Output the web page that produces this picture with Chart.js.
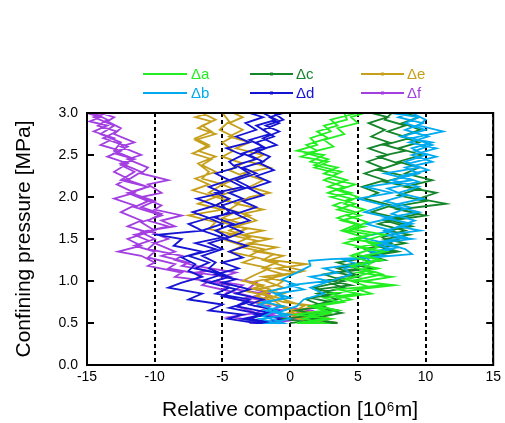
<!DOCTYPE html>
<html>
<head>
<meta charset="utf-8">
<script src="https://cdn.jsdelivr.net/npm/chart.js@4"></script>
<style>
html,body{margin:0;padding:0;background:#fff;}
canvas{display:block;}
</style>
</head>
<body>
<canvas id="c" width="505" height="423"></canvas>
<script>
// ---- data (x = relative compaction [10^6 m], y = confining pressure [MPa]) ----
const seriesNames = ['Δa','Δb','Δc','Δd','Δe','Δf'];
const xTicks = [-15,-10,-5,0,5,10,15];
const yTicks = [0,0.5,1.0,1.5,2.0,2.5,3.0];

const dA = [
 [1,0.5],[3,0.55],[0.5,0.6],[2.5,0.65],[1.5,0.7],[3.5,0.75],[2.5,0.8],[5,0.85],[3.5,0.9],[7,0.95],[5.5,1.0],[7.5,1.05],[5,1.1],[6.5,1.15],[5,1.2],[6.8,1.25],[5.5,1.3],[7,1.35],[5,1.4],[6.5,1.45],[4.5,1.5],[6,1.55],[4.2,1.6],[5.5,1.65],[3.8,1.72],[5.2,1.78],[3.5,1.85],[4.8,1.92],[3,2.0],[4.5,2.05],[2.8,2.12],[4.2,2.2],[2.5,2.28],[3.5,2.35],[1.5,2.42],[2.5,2.5],[0.5,2.55],[2,2.62],[1.5,2.7],[3,2.78],[2.5,2.85],[4.2,2.92],[4,3.0],
 [5.5,3.0],[4.5,2.95],[5,2.88],[3.5,2.82],[4,2.75],[2.5,2.68],[3.2,2.6],[1.2,2.52],[2.8,2.45],[1.8,2.38],[3.8,2.3],[2.8,2.22],[4.8,2.15],[3.5,2.08],[5,2.0],[4,1.92],[5.5,1.85],[4.2,1.78],[5.7,1.7],[4.5,1.62],[7,1.55],[5.5,1.48],[6.5,1.4],[4.8,1.32],[6.5,1.25],[4.5,1.18],[6,1.1],[4,1.02],[7.7,0.95],[5,0.9],[6,0.85],[3.5,0.8],[4,0.75],[2,0.7],[3.5,0.65],[1.5,0.6],[2.5,0.55],[0.5,0.5],
 [2.5,0.5],[1,0.55],[3,0.62],[2,0.7],[4.5,0.78],[3,0.85],[6,0.92],[4.5,1.0],[6.8,1.08],[5.5,1.15],[6,1.22],[4.5,1.3],[6,1.38],[4,1.45],[5.5,1.52],[3.8,1.6],[5,1.68],[3.5,1.75],[4.8,1.82],[3.2,1.9],[4.5,1.98],[2.8,2.05],[4,2.12],[2.5,2.2],[3.5,2.28],[1.8,2.35],[2.8,2.42],[0.8,2.48],[2,2.55],[1.2,2.62],[2.8,2.7],[2,2.78],[3.5,2.85],[3,2.92],[5,3.0]
];
const dB = [
 [-1,0.5],[-2.2,0.55],[0,0.6],[-1.8,0.65],[-0.5,0.7],[-2,0.75],[0,0.8],[-1,0.85],[1,0.9],[0,0.95],[2.8,1.0],[1.5,1.05],[3.5,1.1],[2.5,1.15],[5,1.2],[4,1.25],[7,1.3],[6,1.35],[8,1.4],[6.5,1.45],[9,1.5],[7,1.55],[9.6,1.6],[8,1.65],[9.2,1.72],[7.5,1.8],[8.8,1.88],[7,1.95],[8.5,2.02],[7.2,2.1],[9.5,2.18],[8.2,2.25],[10.2,2.32],[8.8,2.4],[10.8,2.48],[9.2,2.55],[10.5,2.62],[9,2.7],[11.3,2.78],[9.5,2.85],[10,2.92],[9,3.0],
 [7.5,3.0],[9.5,2.95],[8.5,2.88],[10,2.8],[8.2,2.72],[10.5,2.65],[9,2.58],[10,2.5],[8.5,2.42],[9.5,2.35],[7,2.28],[9,2.2],[5.6,2.12],[7.5,2.05],[5,1.98],[7,1.9],[5.5,1.82],[7.5,1.75],[5.6,1.68],[7.5,1.6],[5.2,1.52],[7,1.45],[8.5,1.38],[9,1.32],[6,1.28],[3,1.26],[1.4,1.24],[1.5,1.18],[0.5,1.1],[-0.6,1.02],[0.5,0.95],[-1.5,0.88],[-0.5,0.8],[-2.3,0.72],[-1,0.65],[-2,0.58],[-0.5,0.5],
 [-1.5,0.5],[0,0.55],[-1,0.62],[0.5,0.7],[1,0.78],[2.5,0.85],[1.5,0.92],[3,1.0],[4.5,1.08],[4,1.15],[6,1.22],[5.5,1.3],[7.5,1.38],[6,1.45],[8.5,1.52],[7,1.6],[9,1.68],[7,1.75],[9.5,1.82],[7.5,1.9],[9.8,1.98],[8,2.05],[9.5,2.12],[7.5,2.2],[9.5,2.28],[8.5,2.35],[10.5,2.42],[9,2.5],[10.8,2.58],[8.8,2.65],[10.2,2.72],[8.5,2.8],[9.8,2.88],[8,2.95],[8.8,3.0]
];
const dC = [
 [0,0.5],[2.5,0.55],[1,0.6],[3.5,0.65],[2,0.7],[3,0.75],[1.5,0.8],[3.5,0.85],[2,0.9],[4.5,0.95],[3,1.0],[5,1.05],[3.5,1.1],[6,1.15],[4.5,1.2],[7,1.25],[6,1.3],[8,1.35],[6.8,1.4],[8.5,1.45],[7,1.5],[8.8,1.55],[7.2,1.6],[9,1.65],[7.5,1.72],[10,1.78],[8,1.85],[11.5,1.92],[9.5,1.98],[10.8,2.05],[8.5,2.12],[10.5,2.2],[8.5,2.28],[9.5,2.35],[8,2.42],[9.7,2.5],[8,2.58],[9.5,2.65],[8.2,2.72],[9.6,2.8],[8.3,2.88],[9.5,2.95],[8.5,3.0],
 [6,3.0],[7.2,2.95],[5.8,2.88],[7,2.8],[6,2.72],[7.3,2.65],[5.8,2.58],[7.2,2.5],[5.7,2.42],[6.8,2.35],[5.5,2.28],[7,2.2],[5.3,2.12],[6.5,2.05],[5.5,1.98],[7.5,1.9],[6,1.82],[8,1.75],[6.5,1.68],[8.5,1.6],[6.8,1.52],[7.5,1.45],[5.5,1.38],[6.5,1.3],[3.5,1.22],[5,1.15],[2.5,1.08],[4,1.0],[1.8,0.92],[3,0.85],[1.2,0.78],[2.5,0.7],[0.5,0.65],[2,0.6],[-0.4,0.55],[1.5,0.5],
 [3.5,0.5],[1.5,0.55],[3.8,0.62],[1.5,0.7],[3.5,0.78],[2,0.85],[4,0.92],[2.5,1.0],[4.8,1.08],[3.5,1.15],[6,1.22],[5,1.28],[7.5,1.35],[6.5,1.42],[8,1.5],[7,1.58],[8.5,1.65],[7,1.72],[9.5,1.8],[7.5,1.88],[10,1.95],[8,2.02],[9.5,2.1],[7,2.18],[8.5,2.25],[6.5,2.32],[8,2.4],[6.5,2.48],[8.5,2.55],[7,2.62],[8.8,2.7],[7.2,2.78],[8.5,2.85],[7,2.92],[7.5,3.0]
];
const dD = [
 [-2,0.5],[-0.5,0.55],[-2.5,0.6],[-1,0.65],[-3,0.72],[-2,0.78],[-4,0.85],[-3,0.9],[-5,0.98],[-4,1.02],[-5.5,1.08],[-3.8,1.15],[-5,1.22],[-3.5,1.28],[-4.5,1.35],[-3.2,1.42],[-4.8,1.5],[-3.5,1.58],[-4.5,1.65],[-3,1.72],[-4,1.8],[-2.5,1.88],[-3.5,1.95],[-2,2.02],[-3,2.1],[-1.5,2.18],[-2.5,2.25],[-1.2,2.32],[-2.2,2.4],[-1.5,2.48],[-2.5,2.55],[-1,2.62],[-2,2.7],[-0.8,2.78],[-1.8,2.85],[-0.5,2.92],[-1.2,3.0],
 [-3,3.0],[-2,2.95],[-3.3,2.88],[-2.5,2.8],[-4,2.72],[-3,2.65],[-4.7,2.58],[-3.5,2.5],[-4.5,2.42],[-4,2.35],[-5.5,2.28],[-4.5,2.2],[-6,2.12],[-5,2.05],[-6.9,1.98],[-5.5,1.9],[-7.2,1.82],[-6,1.75],[-7.5,1.68],[-6.5,1.6],[-9.8,1.55],[-8,1.5],[-8.6,1.42],[-6.5,1.35],[-8,1.28],[-7,1.2],[-7.5,1.12],[-6.5,1.05],[-8,0.98],[-9,0.92],[-6.5,0.85],[-7.5,0.78],[-5,0.72],[-6,0.65],[-3.5,0.6],[-4.6,0.55],[-2.5,0.5],
 [-1,0.5],[-3,0.55],[-1.5,0.62],[-4,0.7],[-3,0.78],[-5.5,0.85],[-4.5,0.92],[-6.5,1.0],[-5,1.08],[-7,1.15],[-6,1.22],[-7.5,1.3],[-5.5,1.38],[-7,1.45],[-5,1.52],[-6.5,1.6],[-5,1.68],[-6,1.75],[-4,1.82],[-5.5,1.9],[-4.5,1.98],[-5.5,2.05],[-3.5,2.12],[-4.5,2.2],[-3,2.28],[-4,2.38],[-2.5,2.45],[-3.5,2.52],[-2,2.6],[-3,2.68],[-1.5,2.75],[-2.5,2.85],[-1,2.92],[-2,3.0],
 [-0.5,3.0],[-1.5,2.95],[-0.8,2.88],[-2,2.8],[-1.2,2.72],[-2.5,2.65],[-1.8,2.58],[-3,2.5],[-2,2.42],[-3.5,2.35],[-2.5,2.28],[-4,2.2],[-3,2.12],[-4.5,2.05],[-3.5,1.98],[-5,1.9],[-4.5,1.82],[-5.5,1.75],[-4.2,1.68],[-5.5,1.6],[-4.5,1.52],[-6,1.45],[-5,1.38],[-6.5,1.3],[-5.5,1.22],[-6,1.15],[-4.5,1.05],[-6,0.98],[-4,0.9],[-5,0.82],[-3,0.75],[-4.5,0.68],[-2,0.6],[-3.5,0.55],[-1.5,0.5]
];
const dE = [
 [3.5,0.5],[1.5,0.55],[3,0.6],[0.5,0.65],[2,0.7],[-0.5,0.75],[-1.5,0.8],[-0.5,0.85],[-2.5,0.9],[-1,0.95],[-0.5,1.0],[-2,1.05],[0.5,1.1],[-1,1.15],[1.2,1.2],[-1.5,1.25],[-0.5,1.3],[-2.5,1.35],[-1,1.4],[-3,1.45],[-1.5,1.5],[-3.5,1.55],[-2,1.6],[-4,1.65],[-2.5,1.72],[-3.5,1.8],[-2,1.85],[-4,1.92],[-3,2.0],[-1.5,2.05],[-3,2.12],[-2,2.2],[-3.5,2.28],[-1.5,2.35],[-3,2.42],[-2,2.5],[-4,2.58],[-3,2.65],[-4.5,2.72],[-3.5,2.8],[-4.5,2.88],[-3.5,2.95],[-4.2,3.0],
 [-6,3.0],[-7,2.95],[-5.8,2.9],[-6.8,2.82],[-5.5,2.75],[-7,2.68],[-6,2.6],[-7.2,2.52],[-5.8,2.45],[-6.5,2.38],[-5.5,2.3],[-7,2.22],[-6,2.15],[-7.2,2.08],[-5.5,2.0],[-6.8,1.92],[-5,1.85],[-7.5,1.78],[-5.5,1.7],[-6,1.62],[-4,1.55],[-5,1.5],[-3.5,1.42],[-4.5,1.35],[-2.5,1.28],[-3.5,1.22],[-1.5,1.15],[-2.5,1.08],[-3.5,1.0],[-2,0.95],[-3.3,0.88],[-1.5,0.82],[-2.5,0.75],[-0.5,0.7],[0.5,0.65],[-0.5,0.6],[2,0.55],[1,0.5],
 [2.5,0.5],[0.5,0.55],[1.5,0.6],[-0.5,0.68],[-1,0.75],[-2.5,0.82],[-1.5,0.9],[-3,0.98],[-1,1.05],[1,1.12],[-0.5,1.18],[-2,1.25],[-1.2,1.32],[-3.5,1.4],[-2.5,1.48],[-4.5,1.55],[-3.2,1.62],[-5,1.7],[-3,1.78],[-4.5,1.85],[-3.8,1.92],[-5.5,2.0],[-4,2.08],[-5,2.15],[-3.5,2.25],[-4.5,2.32],[-3.5,2.4],[-5,2.48],[-4.2,2.55],[-5,2.65],[-4.2,2.72],[-5.2,2.8],[-4.5,2.9],[-5,3.0],
 [-6.5,3.0],[-5.5,2.92],[-6.5,2.85],[-5.8,2.78],[-7,2.7],[-6,2.62],[-6.8,2.55],[-5.5,2.48],[-6.8,2.4],[-6,2.3],[-6.5,2.22],[-5,2.15],[-6,2.05],[-4.5,1.98],[-5.5,1.9],[-4,1.82],[-5,1.75],[-3.5,1.68],[-4.5,1.6],[-3,1.52],[-4,1.45],[-2,1.38],[-3,1.3],[-1,1.22],[-2,1.15],[-0.5,1.08],[-1.8,1.0],[-0.5,0.92],[-2,0.85],[-0.5,0.78],[1,0.7],[0,0.62],[3,0.55],[2,0.5]
];
const dF = [
 [-1,0.5],[0.5,0.55],[-1.5,0.6],[-0.5,0.65],[-2.5,0.7],[-1.5,0.75],[-3,0.8],[-2,0.85],[-4,0.9],[-3.5,0.95],[-5.5,1.0],[-4.5,1.05],[-7,1.1],[-6,1.12],[-8,1.18],[-7.5,1.22],[-9.5,1.3],[-8.5,1.35],[-10,1.45],[-9,1.5],[-10.5,1.6],[-8.5,1.65],[-9.5,1.72],[-8,1.78],[-10,1.85],[-9.5,1.9],[-11,2.0],[-9.5,2.05],[-10.5,2.15],[-9,2.2],[-11,2.28],[-10.5,2.35],[-12,2.45],[-11,2.5],[-12.5,2.6],[-11.5,2.65],[-13,2.75],[-12.5,2.82],[-13.5,2.9],[-13,2.95],[-14,3.0],
 [-15,3.0],[-14,2.95],[-14.8,2.9],[-13.5,2.85],[-14.5,2.78],[-13,2.7],[-14,2.62],[-12.5,2.55],[-13.5,2.48],[-12,2.4],[-13,2.3],[-12,2.22],[-12.8,2.15],[-11.5,2.05],[-13,1.98],[-11.5,1.9],[-12.5,1.82],[-11,1.72],[-12,1.65],[-10.5,1.58],[-12,1.5],[-11,1.42],[-12.7,1.35],[-11,1.3],[-10,1.22],[-10.5,1.18],[-8,1.1],[-8.5,1.05],[-6,1.0],[-6.5,0.95],[-4.5,0.88],[-5,0.82],[-3,0.75],[-4,0.7],[-2.5,0.62],[-4.5,0.57],[-2,0.52],[-3,0.5],
 [-1.5,0.5],[1,0.55],[0,0.6],[1.5,0.65],[-1,0.7],[-2,0.78],[-1.5,0.85],[-3,0.92],[-2.5,0.98],[-5,1.05],[-4,1.1],[-7,1.18],[-8.5,1.25],[-8,1.3],[-10.5,1.38],[-10,1.45],[-11.5,1.55],[-10,1.6],[-11,1.7],[-9.5,1.78],[-11.5,1.88],[-10.5,1.95],[-12,2.05],[-10.5,2.12],[-12,2.2],[-11,2.3],[-12.5,2.4],[-11.5,2.45],[-13,2.55],[-12.5,2.65],[-14,2.75],[-13,2.85],[-14.5,2.95],[-13.5,3.0],
 [-14.5,3.0],[-13.5,2.92],[-14.2,2.85],[-12.8,2.78],[-13.8,2.7],[-12,2.6],[-13,2.52],[-11.5,2.45],[-12.5,2.38],[-11.5,2.3],[-12.5,2.2],[-10.5,2.12],[-11.8,2.05],[-10,1.95],[-11,1.88],[-9.5,1.8],[-10.5,1.72],[-9,1.65],[-11,1.58],[-10,1.5],[-11.5,1.42],[-10,1.35],[-10.5,1.28],[-8.5,1.2],[-9,1.15],[-6.5,1.08],[-7,1.02],[-4.5,0.95],[-5,0.9],[-3,0.82],[-3.5,0.78],[-1.5,0.7],[-2.5,0.62],[0,0.55],[-1,0.5]
];

const seriesData = [dA, dB, dC, dD, dE, dF];
const seriesColors = ['#22ee22','#00aaee','#14852a','#1414d2','#c6a01c','#a33fe0'];
const seriesMarker = [false,false,true,true,true,true];

const FONT = "'Liberation Sans', Arial, sans-serif";

const datasets = seriesData.map((d,i)=>({
  label: seriesNames[i],
  data: d.map(p=>({x:p[0], y:p[1]})),
  borderColor: seriesColors[i],
  backgroundColor: seriesColors[i],
  borderWidth: 1.8,
  pointRadius: 0,
  showLine: true,
  tension: 0,
  fill: false
}));

// custom legend, frame and inward ticks
const decorPlugin = {
  id: 'decor',
  afterDraw(chart){
    const ctx = chart.ctx;
    const a = chart.chartArea;
    const ys = chart.scales.y;
    ctx.save();
    ctx.strokeStyle = '#000';
    ctx.lineWidth = 2;
    ctx.strokeRect(a.left, a.top, a.right - a.left, a.bottom - a.top);
    yTicks.forEach(v=>{
      if (v <= 0 || v >= 3) return;
      const py = Math.round(ys.getPixelForValue(v));
      ctx.beginPath();
      ctx.moveTo(a.left, py); ctx.lineTo(a.left + 7, py);
      ctx.moveTo(a.right, py); ctx.lineTo(a.right - 7, py);
      ctx.stroke();
    });
    const cols = [[143,187,191],[250,293,296],[361,404,407]];
    const rows = [74,93];
    const order = [[0,0,0],[1,0,1],[2,1,0],[3,1,1],[4,2,0],[5,2,1]];
    ctx.font = '15px ' + FONT;
    ctx.textBaseline = 'middle';
    ctx.textAlign = 'left';
    order.forEach(([i,c,r])=>{
      const [x1,x2,tx] = cols[c];
      const y = rows[r];
      ctx.strokeStyle = seriesColors[i];
      ctx.lineWidth = 2;
      ctx.beginPath(); ctx.moveTo(x1,y); ctx.lineTo(x2,y); ctx.stroke();
      if (seriesMarker[i]) {
        ctx.fillStyle = seriesColors[i];
        ctx.fillRect((x1+x2)/2 - 1.5, y - 1.5, 3, 3);
      }
      ctx.fillStyle = seriesColors[i];
      ctx.fillText(seriesNames[i], tx, y + 1);
    });
    ctx.restore();
  }
};

new Chart(document.getElementById('c'), {
  type: 'scatter',
  data: { datasets },
  plugins: [decorPlugin],
  options: {
    responsive: false,
    animation: false,
    layout: { padding: { left: 0, right: 9, top: 113, bottom: 0 } },
    plugins: { legend: { display: false }, tooltip: { enabled: false } },
    scales: {
      x: {
        type: 'linear', min: -15, max: 15,
        afterBuildTicks: s => { s.ticks = xTicks.map(v=>({value:v})); },
        afterFit: s => { s.height = 58; },
        ticks: { color: '#000', font: { family: FONT, size: 14 }, padding: 4, maxRotation: 0,
                 callback: v => String(v) },
        grid: { color: '#000', lineWidth: 2, drawTicks: false },
        border: { display: true, color: '#000', width: 2, dash: [4,3] },
        title: { display: true, text: 'Relative compaction [10⁶m]', color: '#000',
                 font: { family: FONT, size: 21 }, padding: { top: 0, bottom: 0 } }
      },
      y: {
        type: 'linear', min: 0, max: 3,
        afterBuildTicks: s => { s.ticks = yTicks.map(v=>({value:v})); },
        afterFit: s => { s.width = 87; },
        ticks: { color: '#000', font: { family: FONT, size: 14 }, padding: 9,
                 callback: v => Number(v).toFixed(1) },
        grid: { display: true, drawOnChartArea: false, drawTicks: false },
        border: { display: true, color: '#000', width: 2 },
        title: { display: true, text: 'Confining pressure [MPa]', color: '#000',
                 font: { family: FONT, size: 21 }, padding: { top: 12, bottom: 0 } }
      }
    }
  }
});
</script>
</body>
</html>
